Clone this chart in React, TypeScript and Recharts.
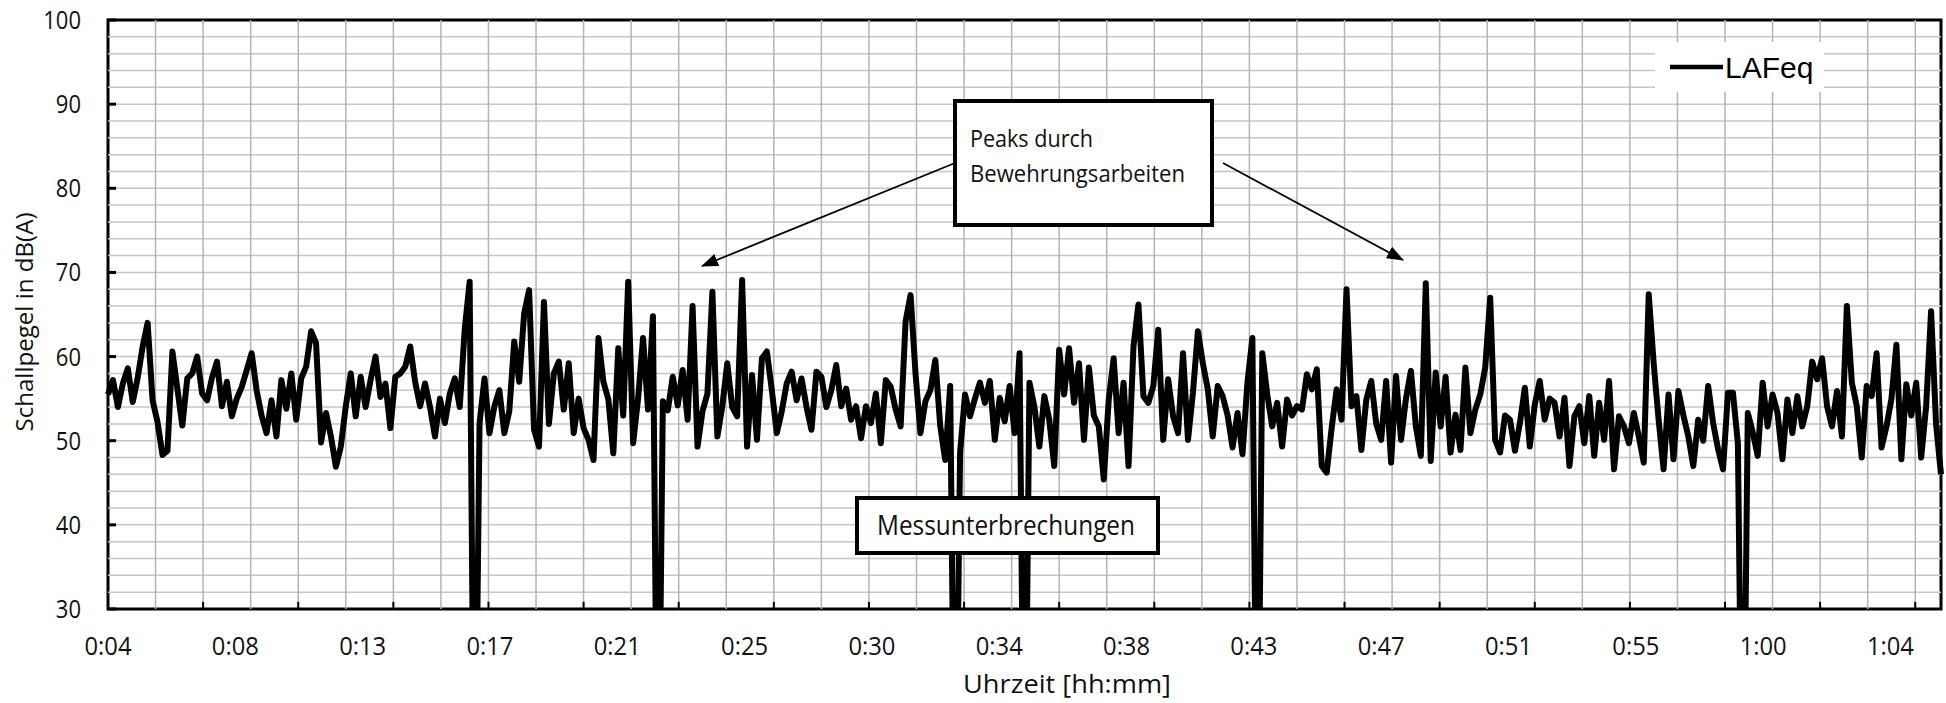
import { LineChart, Line, XAxis, YAxis, ReferenceLine, ReferenceArea, Legend } from 'recharts';

// time axis in seconds since 0:00, one value every 10 s
const startSec = 240;
const endSec = 3940;
const stepSec = 10;
const labelStep = 257;
const gridStep = 96;

const timeLabels = ['0:04', '0:08', '0:13', '0:17', '0:21', '0:25', '0:30', '0:34', '0:38', '0:43', '0:47', '0:51', '0:55', '1:00', '1:04'];
const levelTicks = [30, 40, 50, 60, 70, 80, 90, 100];

// LAFeq in dB(A), 0 = Messunterbrechung
const lafeq = [
  55.5, 57.2, 54.0, 56.8, 58.6, 54.6, 57.5, 61.2, 64.0, 54.8, 52.2, 48.3, 48.8, 60.6, 56.2, 51.8, 57.4, 58.0, 60.0, 55.6,
  54.8, 57.5, 59.4, 54.1, 57.0, 52.9, 55.0, 56.4, 58.4, 60.4, 56.0, 53.0, 50.9, 54.8, 50.5, 57.2, 53.8, 58.0, 52.5, 57.4,
  58.8, 63.0, 61.6, 49.8, 53.3, 50.5, 46.9, 49.3, 54.1, 58.0, 52.9, 57.6, 54.0, 57.2, 60.0, 55.2, 56.8, 51.5, 57.6, 58.0,
  58.8, 61.2, 57.0, 54.1, 56.8, 54.0, 50.5, 55.0, 52.1, 55.6, 57.4, 54.0, 63.2, 68.9, 0, 52.1, 57.4, 50.9, 54.1, 56.0,
  50.9, 53.5, 61.8, 57.0, 65.1, 67.9, 51.3, 49.3, 66.5, 52.0, 58.0, 59.4, 53.7, 59.2, 50.9, 55.0, 51.5, 50.1, 47.7, 62.2,
  57.0, 54.9, 48.5, 61.0, 53.0, 68.9, 49.7, 55.0, 62.2, 53.7, 64.8, 0, 54.7, 53.6, 57.6, 54.2, 58.4, 52.5, 66.0, 49.3,
  53.5, 55.6, 67.7, 50.5, 54.1, 59.2, 54.0, 52.9, 69.1, 49.3, 57.8, 50.1, 59.8, 60.6, 56.0, 50.9, 53.5, 56.8, 58.2, 54.8,
  57.4, 54.0, 51.3, 58.2, 57.6, 54.0, 56.0, 59.0, 54.1, 56.2, 52.5, 54.1, 50.3, 54.1, 52.1, 55.6, 49.7, 57.2, 56.4, 53.7,
  51.7, 64.2, 67.3, 58.0, 50.9, 54.7, 56.0, 59.6, 51.7, 47.7, 56.5, 0, 48.6, 55.5, 52.9, 55.0, 56.9, 54.5, 57.1, 50.1,
  55.1, 52.3, 56.5, 50.9, 60.4, 0, 56.9, 54.0, 49.3, 55.3, 52.5, 47.0, 60.8, 55.5, 61.0, 54.5, 59.2, 50.1, 58.7, 53.0,
  51.7, 45.4, 54.9, 59.8, 50.9, 56.9, 47.0, 61.2, 66.2, 55.3, 54.5, 56.5, 63.2, 50.1, 57.3, 52.9, 50.9, 60.4, 50.1, 55.7,
  63.0, 59.2, 56.1, 50.5, 56.5, 55.3, 53.0, 49.2, 53.3, 48.4, 56.9, 62.2, 0, 60.4, 55.5, 51.7, 54.5, 49.3, 54.9, 53.0,
  54.1, 53.7, 57.9, 56.1, 58.5, 47.0, 46.2, 51.5, 56.1, 52.5, 68.0, 54.1, 55.3, 48.9, 54.9, 57.1, 52.0, 50.1, 57.1, 47.4,
  57.7, 50.1, 55.0, 58.3, 51.7, 48.2, 68.7, 47.6, 58.1, 51.7, 57.6, 48.6, 53.1, 48.9, 58.7, 50.9, 53.7, 55.5, 58.7, 67.0,
  50.1, 48.6, 53.0, 52.5, 48.8, 52.1, 56.3, 49.3, 54.3, 57.1, 52.5, 55.0, 54.5, 50.5, 55.1, 47.0, 52.9, 54.1, 49.7, 55.3,
  48.2, 54.5, 50.1, 57.1, 46.6, 52.9, 51.7, 49.7, 53.3, 50.5, 47.4, 67.4, 59.2, 52.5, 46.6, 55.5, 47.8, 55.9, 53.0, 50.5,
  47.0, 52.5, 50.0, 56.5, 52.1, 49.0, 46.6, 55.7, 55.7, 49.7, 0, 53.3, 51.0, 48.2, 56.9, 51.7, 55.5, 53.3, 47.8, 54.9,
  50.9, 55.3, 51.7, 54.1, 59.4, 57.3, 59.8, 54.1, 51.7, 55.9, 50.5, 66.0, 56.9, 54.1, 48.0, 56.5, 55.3, 60.4, 49.2, 51.7,
  55.0, 61.4, 47.8, 56.7, 53.0, 56.9, 48.0, 54.1, 65.4, 52.0, 46.0,
];

const data = lafeq.map((v, i) => ({ t: startSec + i * stepSec, v }));
const labelTimes = timeLabels.map((_, i) => startSec + i * labelStep);

const gridTimes: number[] = [];
for (let t = startSec + gridStep; t < endSec; t += gridStep) gridTimes.push(t);
const tickTimes = gridTimes.filter((_, i) => i % 2 === 1);
const gridLevels: number[] = [];
for (let l = 32; l < 100; l += 2) gridLevels.push(l);

const FONT = '"Open Sans", sans-serif';

function YTick({ x, y, payload }: any) {
  const s = String(payload.value);
  return (
    <g>
      <line x1={x} y1={y} x2={x + 8} y2={y} stroke="#000" strokeWidth={3} />
      <text x={x - 27} y={y} dy="0.36em" textAnchor="end" fontFamily={FONT} fontSize={25} fill="#111"
        textLength={s.length * 12.6} lengthAdjust="spacingAndGlyphs">{s}</text>
    </g>
  );
}

function XTick({ x, y, payload }: any) {
  const idx = labelTimes.indexOf(payload.value);
  const s = timeLabels[idx] ?? '';
  return (
    <text x={x} y={y + 37} dy="0.36em" textAnchor="middle" fontFamily={FONT} fontSize={26} fill="#111"
      textLength={47} lengthAdjust="spacingAndGlyphs">{s}</text>
  );
}

function LegendBox() {
  return (
    <div style={{ width: 169, height: 50, background: '#fff', position: 'relative' }}>
      <svg width={169} height={50} style={{ position: 'absolute', left: 0, top: 0 }}>
        <line x1={15} y1={25} x2={68} y2={25} stroke="#000" strokeWidth={4.5} />
        <text x={70} y={36} fontFamily='"Liberation Sans", Arial, sans-serif' fontSize={30} fill="#000">LAFeq</text>
      </svg>
    </div>
  );
}

export default function App() {
  return (
    <div style={{ position: 'absolute', left: 0, top: 0, width: 1946, height: 703, background: '#fff' }}>
      <LineChart width={1946} height={703} data={data} margin={{ top: 20, right: 5, left: 0, bottom: 0 }}>
        <XAxis dataKey="t" type="number" domain={[startSec, endSec]} ticks={labelTimes} interval={0}
          tick={<XTick />} tickLine={false} axisLine={false} tickSize={0} tickMargin={0} height={94} />
        <YAxis type="number" domain={[30, 100]} ticks={levelTicks} interval={0} allowDataOverflow
          tick={<YTick />} tickLine={false} axisLine={false} tickSize={0} tickMargin={0} width={108} />
        {gridLevels.map((l) => (
          <ReferenceLine key={`h${l}`} y={l} stroke="#c6c6c6" strokeWidth={1.5} />
        ))}
        {gridTimes.map((t) => (
          <ReferenceLine key={`v${t}`} x={t} stroke="#b4b4b4" strokeWidth={1.5} />
        ))}
        <Legend layout="vertical" align="center" verticalAlign="middle" content={<LegendBox />}
          wrapperStyle={{ left: 1655, top: 42, width: 169, height: 50 }} />
        <Line type="linear" dataKey="v" stroke="#000" strokeWidth={6} dot={false} strokeLinejoin="round"
          isAnimationActive={false} />
        {tickTimes.map((t) => (
          <ReferenceLine key={`tk${t}`} segment={[{ x: t, y: 30 }, { x: t, y: 30.85 }]} stroke="#000" strokeWidth={2} />
        ))}
        <ReferenceArea x1={startSec} x2={endSec} y1={30} y2={100} fill="none" stroke="#000" strokeWidth={3} />
      </LineChart>
      <svg width={1946} height={703} style={{ position: 'absolute', left: 0, top: 0, pointerEvents: 'none' }}>
        <defs>
          <marker id="arrowHead" markerWidth={17} markerHeight={13} refX={16} refY={6.5} orient="auto"
            markerUnits="userSpaceOnUse">
            <path d="M0,0 L17,6.5 L0,13 z" fill="#000" />
          </marker>
        </defs>
        <line x1={955} y1={163} x2={702} y2={266} stroke="#000" strokeWidth={1.8} markerEnd="url(#arrowHead)" />
        <line x1={1223} y1={163} x2={1403} y2={260} stroke="#000" strokeWidth={1.8} markerEnd="url(#arrowHead)" />
        <rect x={955} y={101} width={257} height={124} fill="#fff" stroke="#000" strokeWidth={4} />
        <text x={970} y={147} fontFamily={FONT} fontSize={24} fill="#111" textLength={123} lengthAdjust="spacingAndGlyphs">Peaks durch</text>
        <text x={970} y={182} fontFamily={FONT} fontSize={24} fill="#111" textLength={215} lengthAdjust="spacingAndGlyphs">Bewehrungsarbeiten</text>
        <rect x={857} y={498} width={301} height={55} fill="#fff" stroke="#000" strokeWidth={4} />
        <text x={877} y={535} fontFamily={FONT} fontSize={27} fill="#111" textLength={258} lengthAdjust="spacingAndGlyphs">Messunterbrechungen</text>
        <text x={1067} y={693} textAnchor="middle" fontFamily={FONT} fontSize={26} fill="#111" textLength={208}
          lengthAdjust="spacingAndGlyphs">Uhrzeit [hh:mm]</text>
        <text x={33} y={322} textAnchor="middle" transform="rotate(-90 33 322)" fontFamily={FONT} fontSize={24}
          fill="#111" textLength={219} lengthAdjust="spacingAndGlyphs">Schallpegel in dB(A)</text>
      </svg>
    </div>
  );
}
